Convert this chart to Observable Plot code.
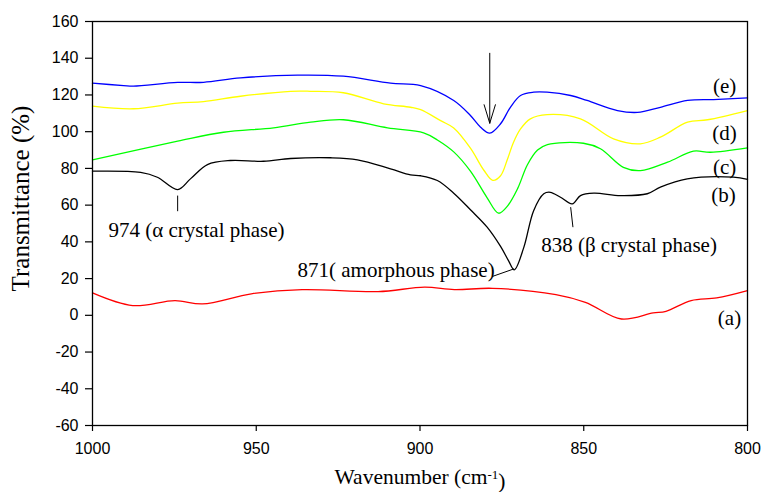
<!DOCTYPE html>
<html>
<head>
<meta charset="utf-8">
<script src="https://cdn.jsdelivr.net/npm/d3@7"></script>
<script src="https://cdn.jsdelivr.net/npm/@observablehq/plot@0.6"></script>
<style>
  html, body { margin: 0; padding: 0; background: #fff; }
  #chart { width: 763px; height: 492px; }
</style>
</head>
<body>
<div id="chart"></div>
<script>
// FTIR transmittance spectra, samples (a)–(e)
const waveA = [1000, 987.7, 974.8, 966.4, 951.5, 936, 912.8, 898.6, 889.5, 877.9, 858.5, 849.5, 838.5, 828.8, 824.9, 817.2, 809.4, 800];
const transA = [12.2, 5.3, 8.0, 6.2, 11.7, 14.0, 12.9, 15.3, 14.0, 14.7, 11.3, 7.1, -2.0, 1.3, 2.2, 8.0, 9.5, 13.5];

const waveB = [1000, 985.3, 980.2, 974, 970.1, 964.9, 957.9, 947.8, 939.5, 927.3, 919.1, 909, 902.9, 899.8, 894.7, 889.7, 884.6, 879.5, 875.4, 872.9, 871.2, 868.3, 865.3, 862.2, 860.2, 857.1, 853.5, 851, 846.9, 838.8, 830.6, 826.6, 818.4, 804.3, 800];
const transB = [78.5, 77.8, 75.2, 68.5, 74.3, 82.1, 84.3, 83.9, 85.4, 85.8, 84.7, 79.8, 76.5, 76.0, 73.4, 66.5, 57.5, 48.0, 37.5, 29.5, 24.8, 37.0, 57.0, 66.2, 67.0, 64.3, 60.7, 65.2, 66.5, 65.2, 66.2, 69.8, 74.3, 75.2, 74.0];

const waveC = [1000, 974, 960, 944.7, 933.4, 923.4, 909.9, 898.9, 894.7, 889.7, 884.6, 879.5, 876.0, 873.3, 870.2, 867.2, 864.1, 861.1, 850.1, 844.9, 837.9, 832.7, 824.4, 816.5, 811.3, 800];
const transC = [84.7, 94.8, 99.7, 102.1, 105.2, 106.5, 102.1, 99.4, 95.5, 89.0, 78.5, 64.0, 55.6, 59.5, 69.0, 82.0, 90.0, 93.0, 93.7, 90.7, 80.6, 78.8, 83.4, 89.4, 88.8, 91.2];

const waveD = [1000, 987.5, 974, 966.1, 954.8, 939.5, 933.4, 923.4, 911.1, 902.9, 899.8, 893.7, 889.7, 884.6, 880.5, 877.8, 875.4, 873.3, 871.5, 869.3, 866.3, 861.2, 851, 840.9, 832.7, 826.6, 818.3, 812.2, 800];
const transD = [113.9, 112.5, 115.5, 116.4, 119.3, 122.0, 122.0, 121.2, 115.2, 113.3, 112.0, 106.0, 102.0, 91.0, 79.0, 73.5, 76.0, 85.0, 94.0, 101.5, 107.0, 109.3, 107.0, 96.1, 93.4, 97.0, 105.2, 106.5, 111.5];

const waveE = [1000, 990.5, 987.5, 974, 966.1, 954.8, 937.4, 923.4, 909, 899.8, 889.7, 884.6, 881.5, 878.7, 875.4, 872.4, 869.3, 865.3, 861.2, 854, 849, 839.7, 833.6, 826.6, 818.3, 810.4, 800];
const transE = [126.4, 125.1, 124.8, 126.8, 126.9, 129.3, 130.8, 130.2, 126.4, 125.1, 117.0, 108.8, 102.4, 99.2, 104.3, 113.3, 119.7, 121.5, 121.5, 119.7, 117.0, 111.5, 110.5, 113.3, 117.0, 117.5, 118.4];

const seriesNames = ["(a)", "(b)", "(c)", "(d)", "(e)"];
const seriesColors = ["#ff0000", "#000000", "#00ff00", "#ffff00", "#0000ff"];

// axis ticks
const xTicks = [1000, 950, 900, 850, 800];
const yTicks = [-60, -40, -20, 0, 20, 40, 60, 80, 100, 120, 140, 160];

// series tags at the right end (data units)
const tagWave = [805.5, 807.3, 807, 807, 807];
const tagTrans = [-1.8, 65.2, 80.5, 99.0, 124.6];

// band annotations (data units) with their leader lines
const noteText = ["974 (\u03b1 crystal phase)", "871( amorphous phase)", "838 (\u03b2 crystal phase)"];
const noteWave = [995.1, 937.4, 863.0];
const noteTrans = [46.2, 24.4, 38.0];
const leadWave1 = [974, 878, 854];
const leadTrans1 = [65.2, 21.1, 58.9];
const leadWave2 = [974, 871.3, 853.3];
const leadTrans2 = [56.7, 25.3, 48.0];

// arrow over the 871 band
const arrowWave = [878.7];
const arrowTop = [142.7];
const arrowTip = [104.6];

const spectra = [
  [waveA, transA], [waveB, transB], [waveC, transC], [waveD, transD], [waveE, transE]
].map(([w, t], i) => w.map((x, j) => ({wave: x, trans: t[j], series: seriesNames[i]})));

const tags = seriesNames.map((s, i) => ({s, wave: tagWave[i], trans: tagTrans[i]}));
const notes = noteText.map((s, i) => ({
  s, wave: noteWave[i], trans: noteTrans[i],
  x1: leadWave1[i], y1: leadTrans1[i], x2: leadWave2[i], y2: leadTrans2[i]
}));
const arrows = arrowWave.map((x, i) => ({x, y1: arrowTop[i], y2: arrowTip[i]}));

const serif = "'Liberation Serif', 'Times New Roman', serif";

const chart = Plot.plot({
  width: 763,
  height: 492,
  marginLeft: 92,
  marginRight: 16,
  marginTop: 21,
  marginBottom: 67,
  style: {fontFamily: "'Liberation Sans', Arial, sans-serif", fontSize: "16px", color: "black", background: "white"},
  x: {domain: [1000, 800]},
  y: {domain: [-60, 160]},
  marks: [
    Plot.axisX({ticks: xTicks, tickSize: 6, tickPadding: 11, tickFormat: d => String(d), label: null, strokeWidth: 1.2}),
    Plot.axisY({ticks: yTicks, tickSize: 7, tickPadding: 7, tickFormat: d => String(d), label: null, strokeWidth: 1.2}),
    ...spectra.map((rows, i) => Plot.line(rows, {
      x: "wave", y: "trans", stroke: seriesColors[i], strokeWidth: 1.3, curve: "catmull-rom"
    })),
    Plot.link(notes, {x1: "x1", y1: "y1", x2: "x2", y2: "y2", stroke: "black", strokeWidth: 1}),
    Plot.arrow(arrows, {x1: "x", x2: "x", y1: "y1", y2: "y2", stroke: "black", strokeWidth: 1, headAngle: 34, headLength: 29}),
    Plot.text(tags, {x: "wave", y: "trans", text: "s", fontFamily: serif, fontSize: 21, fill: "black"}),
    Plot.text(notes, {x: "wave", y: "trans", text: "s", textAnchor: "start", fontFamily: serif, fontSize: 21, fill: "black"}),
    Plot.text(["Transmittance (%)"], {frameAnchor: "left", textAnchor: "middle", lineAnchor: "middle", rotate: -90, dx: -72, dy: -25, fontFamily: serif, fontSize: 25, fill: "black"}),
    Plot.text(["Wavenumber (cm-1)"], {frameAnchor: "bottom", textAnchor: "middle", lineAnchor: "middle", dy: 52, fontFamily: serif, fontSize: 21.5, fill: "black"}),
    Plot.frame({stroke: "black", strokeWidth: 1.3})
  ]
});

// raise the "-1" of cm-1 as a superscript
d3.select(chart).selectAll("text").each(function () {
  if (this.textContent === "Wavenumber (cm-1)") {
    const t = d3.select(this);
    t.text("Wavenumber (cm");
    t.append("tspan").attr("dy", "-0.45em").attr("font-size", "13px").text("-1");
    t.append("tspan").attr("dy", "0.45em").text(")");
  }
});

document.getElementById("chart").appendChild(chart);
</script>
</body>
</html>
